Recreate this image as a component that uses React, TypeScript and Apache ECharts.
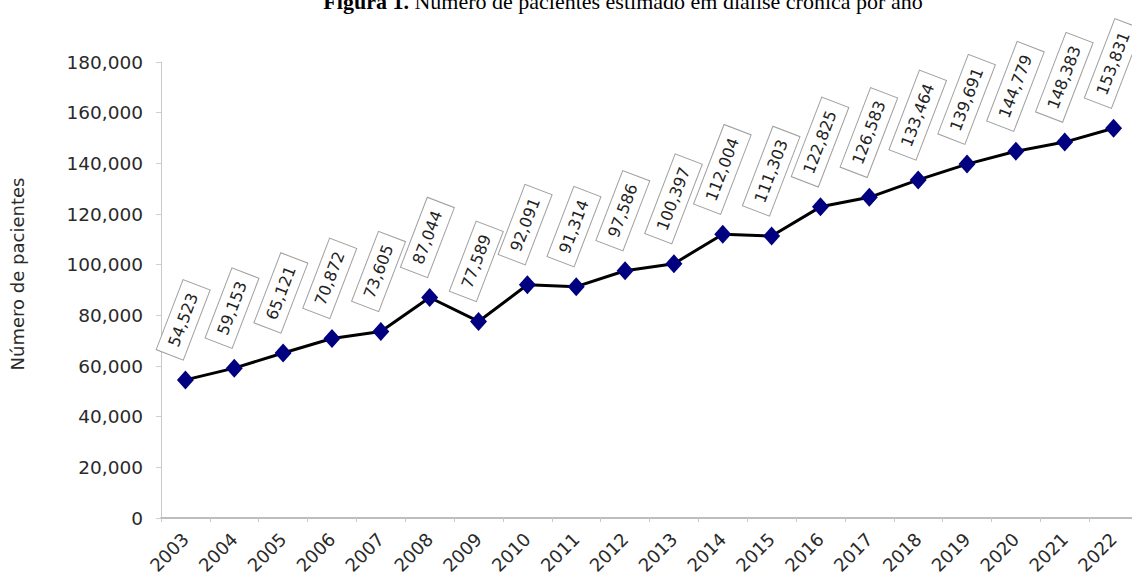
import React, { useEffect, useRef } from "react";
import * as echarts from "echarts";

// Estimated number of chronic dialysis patients per year
const years = [
  "2003", "2004", "2005", "2006", "2007", "2008", "2009", "2010", "2011", "2012",
  "2013", "2014", "2015", "2016", "2017", "2018", "2019", "2020", "2021", "2022",
];
const patients = [
  54523, 59153, 65121, 70872, 73605, 87044, 77589, 92091, 91314, 97586,
  100397, 112004, 111303, 122825, 126583, 133464, 139691, 144779, 148383, 153831,
];
const yTicks = { min: 0, max: 180000, interval: 20000 };

const titleBold = "Figura 1.";
const titleRest = "Número de pacientes estimado em diálise crônica por ano";
const yName = "Número de pacientes";

const fmt = (v: number) => v.toLocaleString("en-US");

export default function App() {
  const ref = useRef<HTMLDivElement>(null);

  useEffect(() => {
    if (!ref.current) return;
    const chart = echarts.init(ref.current, null, { renderer: "svg" });
    chart.setOption({
      animation: false,
      backgroundColor: "#ffffff",
      textStyle: { fontFamily: "DejaVu Sans" },
      graphic: [
        {
          type: "text",
          x: 623,
          y: 1,
          style: {
            text: `{b|${titleBold}} ${titleRest}`,
            fontFamily: "Liberation Serif",
            fontSize: 22,
            fill: "#000",
            align: "center",
            verticalAlign: "middle",
            rich: {
              b: { fontFamily: "Liberation Serif", fontSize: 22, fontWeight: "bold", fill: "#000" },
            },
          },
        },
        {
          // vertical axis title
          type: "text",
          x: 17,
          y: 274,
          rotation: Math.PI / 2,
          style: {
            text: yName,
            fontFamily: "DejaVu Sans",
            fontSize: 18,
            fill: "#2a2a2a",
            align: "center",
            verticalAlign: "middle",
          },
        },
      ],
      grid: { left: 161, right: 2, top: 62, bottom: 64, containLabel: false, outerBoundsMode: "none" },
      xAxis: {
        type: "category",
        data: years,
        boundaryGap: true,
        axisLine: { show: true, lineStyle: { color: "#bdbdbd", width: 2 } },
        axisTick: { show: true, length: 4, lineStyle: { color: "#c8c8c8" } },
        axisLabel: {
          interval: 0,
          rotate: 45,
          margin: 18,
          fontFamily: "DejaVu Sans",
          fontSize: 18,
          color: "#2a2a2a",
        },
        splitLine: { show: false },
      },
      yAxis: {
        type: "value",
        min: yTicks.min,
        max: yTicks.max,
        interval: yTicks.interval,
        axisLine: { show: true, lineStyle: { color: "#c8c8c8", width: 1 } },
        axisTick: { show: true, length: 5, lineStyle: { color: "#d0d0d0" } },
        axisLabel: {
          margin: 18,
          fontFamily: "DejaVu Sans",
          fontSize: 18.5,
          color: "#2a2a2a",
          formatter: (v: number) => fmt(v),
        },
        splitLine: { show: false },
      },
      series: [
        {
          type: "line",
          data: patients,
          symbol: "diamond",
          symbolSize: [17, 19],
          itemStyle: { color: "#000080" },
          lineStyle: { color: "#000000", width: 3 },
          label: {
            show: true,
            formatter: (p: any) => fmt(p.value),
            rotate: 69,
            position: [-7, -16],
            align: "left",
            verticalAlign: "middle",
            fontFamily: "DejaVu Sans",
            fontSize: 16,
            color: "#222",
            backgroundColor: "#ffffff",
            borderColor: "#a0a0a0",
            borderWidth: 1,
            padding: [6, 9],
          },
        },
      ],
    });
    return () => chart.dispose();
  }, []);

  return (
    <div style={{ position: "absolute", left: 0, top: 0, width: 1132, height: 582, overflow: "hidden", background: "#fff" }}>
      <div ref={ref} style={{ width: 1140, height: 582 }} />
    </div>
  );
}
